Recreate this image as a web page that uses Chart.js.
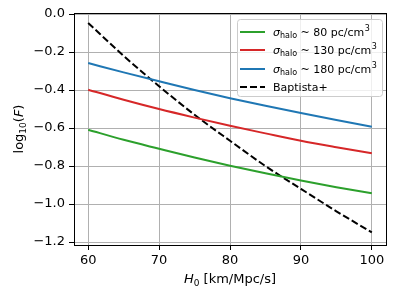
<!DOCTYPE html>
<html>
<head>
<meta charset="utf-8">
<script src="https://cdn.jsdelivr.net/npm/chart.js@4"></script>
<style>
  html, body { margin: 0; padding: 0; background: #fff; }
  #wrap { width: 396px; height: 300px; }
</style>
</head>
<body>
<div id="wrap"><canvas id="graphCanvas" width="396" height="300"></canvas></div>
<script>
// values
var h0 = [60, 65, 70, 75, 80, 85, 90, 95, 100];
var sigma80 = [-0.609, -0.662, -0.709, -0.755, -0.798, -0.838, -0.876, -0.911, -0.943];
var sigma130 = [-0.398, -0.451, -0.500, -0.545, -0.588, -0.628, -0.667, -0.701, -0.733];
var sigma180 = [-0.258, -0.307, -0.354, -0.400, -0.443, -0.483, -0.521, -0.558, -0.593];
var baptista = [-0.047, -0.220, -0.380, -0.530, -0.667, -0.800, -0.920, -1.038, -1.149];
var xTicks = [60, 70, 80, 90, 100];
var yTicks = [0.0, -0.2, -0.4, -0.6, -0.8, -1.0, -1.2];
var legendValues = ["80", "130", "180"];

var FONT = "DejaVu Sans";

function pts(ys) {
  var out = [];
  for (var i in h0) {
    out.push({ x: h0[i], y: ys[i] });
  }
  return out;
}

function minus(v) {
  return (v < 0 ? "\u2212" : "") + Math.abs(v).toFixed(1);
}

// frame + axis titles + legend, drawn the matplotlib way
var extras = {
  id: "extras",
  afterDraw: function (chart) {
    var ctx = chart.ctx;
    var a = chart.chartArea;
    ctx.save();

    // full box around the axes
    ctx.strokeStyle = "#000";
    ctx.lineWidth = 1;
    ctx.strokeRect(Math.round(a.left) + 0.5, Math.round(a.top) + 0.5,
      Math.round(a.right - a.left), Math.round(a.bottom - a.top));

    ctx.fillStyle = "#000";
    ctx.textBaseline = "alphabetic";

    // x title: H_0 [km/Mpc/s]
    var big = "13px '" + FONT + "'";
    var ital = "oblique 13px '" + FONT + "'";
    var sub = "9px '" + FONT + "'";
    ctx.font = ital; var wH = ctx.measureText("H").width;
    ctx.font = sub; var w0 = ctx.measureText("0").width;
    ctx.font = big; var wR = ctx.measureText(" [km/Mpc/s]").width;
    var cx = (a.left + a.right) / 2;
    var x = cx - (wH + w0 + wR) / 2;
    var y = 283;
    ctx.textAlign = "left";
    ctx.font = ital; ctx.fillText("H", x, y); x += wH;
    ctx.font = sub; ctx.fillText("0", x, y + 3); x += w0;
    ctx.font = big; ctx.fillText(" [km/Mpc/s]", x, y);

    // y title: log_10(F)
    ctx.save();
    ctx.translate(23, (a.top + a.bottom) / 2);
    ctx.rotate(-Math.PI / 2);
    ctx.font = big; var wl = ctx.measureText("log").width;
    ctx.font = sub; var w10 = ctx.measureText("10").width;
    ctx.font = big; var wp = ctx.measureText("(").width;
    ctx.font = ital; var wF = ctx.measureText("F").width;
    ctx.font = big; var wq = ctx.measureText(")").width;
    x = -(wl + w10 + wp + wF + wq) / 2;
    ctx.font = big; ctx.fillText("log", x, 0); x += wl;
    ctx.font = sub; ctx.fillText("10", x, 3); x += w10;
    ctx.font = big; ctx.fillText("(", x, 0); x += wp;
    ctx.font = ital; ctx.fillText("F", x, 0); x += wF;
    ctx.font = big; ctx.fillText(")", x, 0);
    ctx.restore();

    // legend
    var bx = 237.5, by = 19.5, bw = 145, bh = 77, r = 3;
    ctx.fillStyle = "rgba(255,255,255,0.8)";
    ctx.strokeStyle = "#cccccc";
    ctx.lineWidth = 1;
    ctx.beginPath();
    ctx.moveTo(bx + r, by);
    ctx.arcTo(bx + bw, by, bx + bw, by + bh, r);
    ctx.arcTo(bx + bw, by + bh, bx, by + bh, r);
    ctx.arcTo(bx, by + bh, bx, by, r);
    ctx.arcTo(bx, by, bx + bw, by, r);
    ctx.closePath();
    ctx.fill();
    ctx.stroke();

    var rows = [32, 50, 69, 87];
    var ds = chart.data.datasets;
    var lf = "11px '" + FONT + "'";
    var lfi = "oblique 11px '" + FONT + "'";
    var ls = "8px '" + FONT + "'";
    for (var i = 0; i < ds.length; i++) {
      var ry = rows[i];
      ctx.strokeStyle = ds[i].borderColor;
      ctx.lineWidth = 2;
      ctx.setLineDash(ds[i].borderDash || []);
      ctx.beginPath();
      ctx.moveTo(240, ry);
      ctx.lineTo(265, ry);
      ctx.stroke();
      ctx.setLineDash([]);
      ctx.fillStyle = "#000";
      x = 273;
      var ty = ry + 4;
      if (i < legendValues.length) {
        ctx.font = lfi; ctx.fillText("\u03c3", x, ty); x += ctx.measureText("\u03c3").width;
        ctx.font = ls; ctx.fillText("halo", x, ty + 2); x += ctx.measureText("halo").width;
        ctx.font = lf;
        var t = " ~ " + legendValues[i] + " pc/cm";
        ctx.fillText(t, x, ty); x += ctx.measureText(t).width;
        ctx.font = ls; ctx.fillText("3", x + 0.5, ty - 5);
      } else {
        ctx.font = lf; ctx.fillText(ds[i].label, x, ty);
      }
    }
    ctx.restore();
  }
};

var chartdata = {
  datasets: [
    { label: "sigma 80", data: pts(sigma80), borderColor: "#2ca02c" },
    { label: "sigma 130", data: pts(sigma130), borderColor: "#d62728" },
    { label: "sigma 180", data: pts(sigma180), borderColor: "#1f77b4" },
    { label: "Baptista+", data: pts(baptista), borderColor: "#000000", borderDash: [7, 3] }
  ]
};
chartdata.datasets.forEach(function (d) {
  d.borderWidth = 2;
  d.pointRadius = 0;
  d.fill = false;
  d.cubicInterpolationMode = "monotone";
});

var axisFont = { family: FONT, size: 13 };

new Chart(document.getElementById("graphCanvas"), {
  type: "line",
  data: chartdata,
  plugins: [extras],
  options: {
    responsive: false,
    animation: false,
    layout: { padding: { top: 13, right: 10, left: 0, bottom: 0 } },
    plugins: { legend: { display: false }, tooltip: { enabled: false } },
    scales: {
      x: {
        type: "linear",
        min: 58,
        max: 102,
        afterBuildTicks: function (s) { s.ticks = xTicks.map(function (v) { return { value: v }; }); },
        afterFit: function (s) { s.height = 55; },
        grid: { color: "#b0b0b0", lineWidth: 1, tickLength: 5, tickColor: "#000", tickWidth: 1 },
        border: { color: "#000", width: 1 },
        ticks: { font: axisFont, color: "#000", padding: 3, maxRotation: 0,
          callback: function (v) { return String(v); } }
      },
      y: {
        type: "linear",
        min: -1.2155,
        max: 0.0055,
        afterBuildTicks: function (s) { s.ticks = yTicks.map(function (v) { return { value: v }; }); },
        afterFit: function (s) { s.width = 74; },
        grid: { color: "#b0b0b0", lineWidth: 1, tickLength: 5, tickColor: "#000", tickWidth: 1 },
        border: { color: "#000", width: 1 },
        ticks: { font: axisFont, color: "#000", padding: 4, callback: minus }
      }
    }
  }
});
</script>
</body>
</html>
